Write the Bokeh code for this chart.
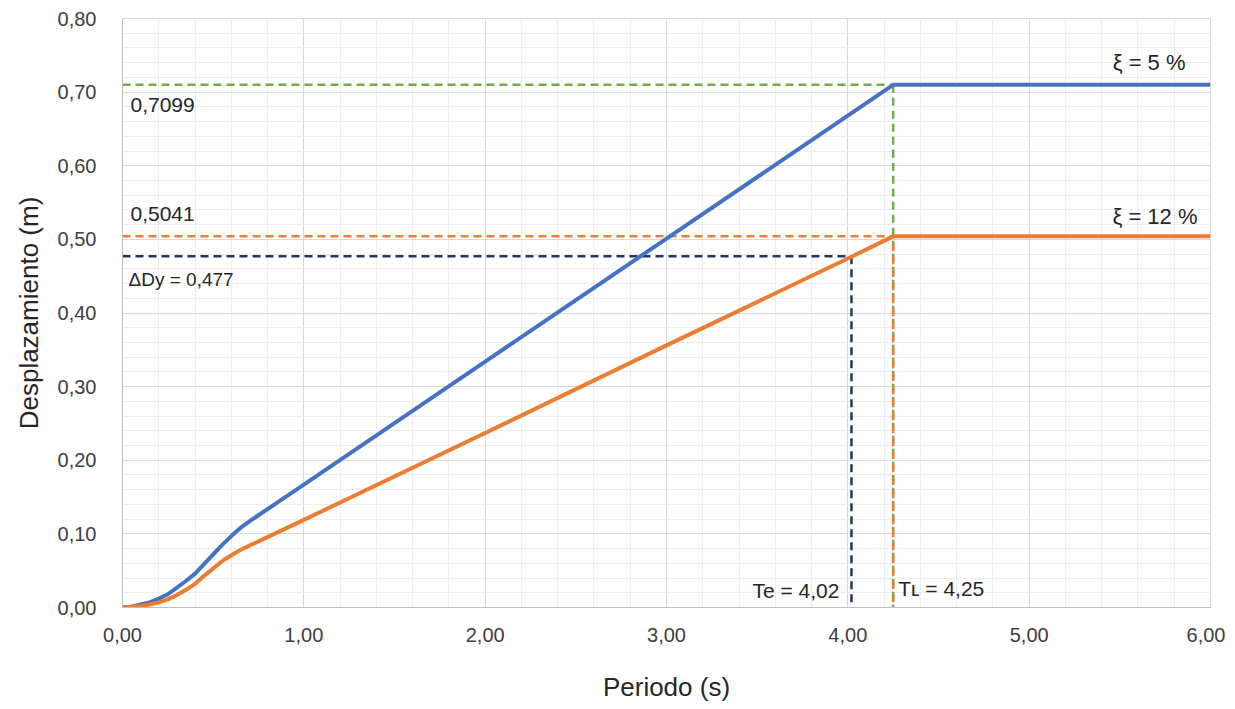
from bokeh.plotting import figure
from bokeh.models import FixedTicker, Label, ColumnDataSource
from bokeh.embed import file_html
from bokeh.resources import INLINE

# ---- data ----
periodo = [0.00, 0.05, 0.10, 0.15, 0.20, 0.25, 0.30, 0.35, 0.40, 0.45, 0.50,
           0.55, 0.60, 0.65, 0.70, 1.00, 2.00, 3.00, 4.00, 4.25, 4.30, 5.00, 6.00]
desp_5 = [0.000, 0.001, 0.004, 0.007, 0.012, 0.018, 0.027, 0.036, 0.046, 0.059, 0.072,
          0.085, 0.097, 0.108, 0.117, 0.167, 0.334, 0.501, 0.668, 0.7099, 0.7099, 0.7099, 0.7099]
desp_12 = [0.000, 0.001, 0.002, 0.004, 0.007, 0.011, 0.017, 0.024, 0.032, 0.043, 0.053,
           0.063, 0.071, 0.078, 0.084, 0.119, 0.237, 0.356, 0.474, 0.5041, 0.5041, 0.5041, 0.5041]

sd_5 = 0.7099
sd_12 = 0.5041
delta_dy = 0.477
t_e = 4.02
t_l = 4.25

x_ticks = [0, 1, 2, 3, 4, 5, 6]
y_ticks = [0.0, 0.1, 0.2, 0.3, 0.4, 0.5, 0.6, 0.7, 0.8]


def fmt(v, d=2):
    return f"{v:.{d}f}".replace(".", ",")


FONT = "Liberation Sans"

p = figure(width=1225, height=706, output_backend="svg", toolbar_location=None,
           x_range=(0, 6), y_range=(0, 0.8),
           min_border_left=122, min_border_right=15, min_border_top=18, min_border_bottom=99)
p.background_fill_color = "white"
p.border_fill_color = "white"
p.outline_line_color = "#d9d9d9"

# axes / ticks
p.xaxis.ticker = FixedTicker(ticks=x_ticks, minor_ticks=[i * 0.2 for i in range(31)])
p.yaxis.ticker = FixedTicker(ticks=y_ticks, minor_ticks=[i * 0.02 for i in range(41)])
p.xaxis.major_label_overrides = {t: fmt(t) for t in x_ticks}
p.yaxis.major_label_overrides = {t: fmt(t) for t in y_ticks}
for ax in (p.xaxis, p.yaxis):
    ax.major_tick_line_color = None
    ax.minor_tick_line_color = None
    ax.axis_line_color = "#bfbfbf"
    ax.axis_line_width = 1
    ax.major_label_text_font = FONT
    ax.major_label_text_font_size = "20px"
    ax.major_label_text_color = "#404040"
    ax.axis_label_text_font = FONT
    ax.axis_label_text_font_size = "26px"
    ax.axis_label_text_font_style = "normal"
    ax.axis_label_text_color = "#262626"
p.xaxis.major_label_standoff = 14
p.yaxis.major_label_standoff = 20
p.xaxis.axis_label = "Periodo (s)"
p.yaxis.axis_label = "Desplazamiento (m)"
p.xaxis.axis_label_standoff = 27
p.yaxis.axis_label_standoff = 11

p.grid.grid_line_color = "#d9d9d9"
p.grid.minor_grid_line_color = "#ededed"

# dashed reference lines
p.line([0, t_l], [sd_5, sd_5], line_color="#70AD47", line_width=2.5, line_dash="8 5")
p.line([t_l, t_l], [sd_5, 0], line_color="#70AD47", line_width=2.5, line_dash="8 5")
p.line([0, t_l], [sd_12, sd_12], line_color="#ED7D31", line_width=2.5, line_dash="8 5")
p.line([t_l, t_l], [sd_12, 0], line_color="#ED7D31", line_width=2.5, line_dash="8 5",
       line_dash_offset=6)
p.line([0, t_e], [delta_dy, delta_dy], line_color="#1F3864", line_width=2.5, line_dash="8 5")
p.line([t_e, t_e], [delta_dy, 0], line_color="#1F3864", line_width=2.5, line_dash="8 5")

# spectra
src = ColumnDataSource(dict(t=periodo, a=desp_5, b=desp_12))
p.line("t", "a", source=src, line_color="#4472C4", line_width=4, line_join="round")
p.line("t", "b", source=src, line_color="#ED7D31", line_width=4, line_join="round")

# annotations
def lab(x, y, text, size="21px", align="left", xo=0, yo=0):
    p.add_layout(Label(x=x, y=y, text=text, text_font=FONT, text_font_size=size,
                       text_color="#262626", text_align=align, text_baseline="middle",
                       x_offset=xo, y_offset=yo))

lab(0, sd_5, fmt(sd_5, 4), xo=8, yo=-20)
lab(0, sd_12, fmt(sd_12, 4), xo=8, yo=22)
lab(0, delta_dy, "\u0394Dy = " + fmt(delta_dy, 3), size="19px", xo=6, yo=-23)
lab(t_e, 0, "Te = " + fmt(t_e), align="right", xo=-12, yo=17)
lab(t_l, 0, "T\u029f = " + fmt(t_l), xo=5, yo=19)
lab(6, sd_5, "\u03be = 5 %", size="22px", align="right", xo=-25, yo=22)
lab(6, sd_12, "\u03be = 12 %", size="22px", align="right", xo=-13, yo=20)

open("out.html", "w").write(file_html(p, INLINE))
